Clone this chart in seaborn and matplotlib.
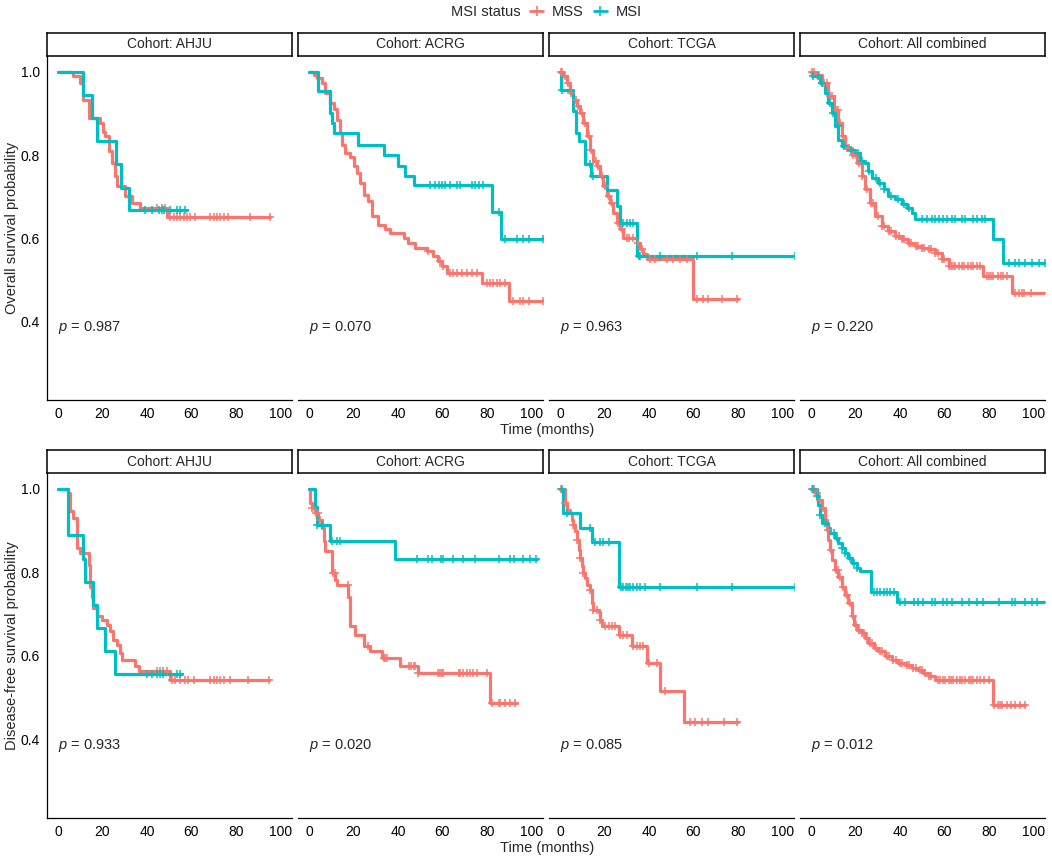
import numpy as np
import matplotlib
matplotlib.use("Agg")
import matplotlib.pyplot as plt
import seaborn as sns
from matplotlib.lines import Line2D

# ---- data (time in months, survival probability) ----
cohorts = ["AHJU", "ACRG", "TCGA", "All combined"]
groups = ["MSS", "MSI"]
os_pvalues = [0.987, 0.070, 0.963, 0.220]
dfs_pvalues = [0.933, 0.020, 0.085, 0.012]
x_ticks = [0, 20, 40, 60, 80, 100]
y_ticks = [0.4, 0.6, 0.8, 1.0]

# Overall survival
os_ahju_mss_t = [0, 6.6, 9.9, 11.4, 13.7, 18.9, 20.0, 21.2, 22.7, 24.2, 25.7, 26.4, 30.2, 33.2, 36.9, 49.0, 95.5]
os_ahju_mss_s = [1.0, 0.989, 0.973, 0.933, 0.889, 0.877, 0.855, 0.845, 0.809, 0.781, 0.750, 0.726, 0.702, 0.686, 0.674, 0.652, 0.652]
os_ahju_mss_c = [44.4, 46.7, 48.2, 50.5, 52, 53.5, 55, 56.5, 58, 59.5, 61.7, 68.5, 70, 71.5, 73, 74.5, 76.7, 86.5, 95.5]
os_ahju_msi_t = [0, 11.4, 15.2, 17.7, 26.0, 28.2, 31.7, 58.0]
os_ahju_msi_s = [1.0, 0.944, 0.889, 0.833, 0.778, 0.722, 0.667, 0.667]
os_ahju_msi_c = [39.2, 42.2, 45.6, 46.7, 47.7, 50.5, 53.5, 55, 57.2]

os_acrg_mss_t = [0, 2.0, 3.5, 5.7, 7.2, 9.5, 11, 12.5, 14, 14.7, 16.2, 18.5, 20, 21.5, 23, 24.5, 26.7, 28.2, 31.2, 34.2,
                 36.5, 42.5, 44.7, 47.7, 53, 56, 58.2, 59.7, 62, 77.8, 89.8, 105.4]
os_acrg_mss_s = [1.0, 0.993, 0.985, 0.973, 0.949, 0.925, 0.91, 0.885, 0.853, 0.825, 0.804, 0.796, 0.773, 0.757, 0.733,
                 0.705, 0.689, 0.653, 0.633, 0.622, 0.614, 0.602, 0.59, 0.578, 0.57, 0.558, 0.546, 0.534, 0.518, 0.494, 0.45, 0.45]
os_acrg_mss_c = [53.5, 59, 60.5, 63.5, 65, 66.5, 68.8, 71, 73.3, 75.5, 80, 81.5, 83, 84.5, 86, 88.3, 92, 95, 96.5, 98.8, 105.4]
os_acrg_msi_t = [0, 4.2, 9.5, 10.2, 11, 22.2, 33.5, 40.2, 43.2, 47.3, 82.3, 86.3, 105.5]
os_acrg_msi_s = [1.0, 0.953, 0.901, 0.877, 0.852, 0.825, 0.799, 0.773, 0.750, 0.727, 0.663, 0.598, 0.598]
os_acrg_msi_c = [54.5, 56.8, 58.3, 59.8, 61.3, 63.5, 66.5, 68, 73.3, 74.8, 76.3, 78.5, 85.3, 88.3, 93.5, 96.5, 98.8, 105.5]

os_tcga_mss_t = [0, 1.5, 3, 4.5, 6, 7.5, 9, 10.5, 12, 13.5, 15, 16.5, 18, 19.5, 21, 22.5, 24, 25.5, 27, 28.5,
                 34.5, 36, 37.5, 39, 60, 80.3]
os_tcga_mss_s = [1.0, 0.989, 0.973, 0.949, 0.933, 0.917, 0.901, 0.877, 0.845, 0.813, 0.785, 0.773, 0.750, 0.726, 0.702,
                 0.686, 0.662, 0.638, 0.622, 0.602, 0.590, 0.574, 0.562, 0.550, 0.455, 0.455]
os_tcga_mss_c = [0.5, 1, 2, 3.5, 5, 7, 8, 10, 11, 13, 14, 16, 17, 19, 20, 22, 23.5, 26, 28, 30, 31, 33, 35, 37,
                 40.5, 42.8, 48, 51, 54, 57, 61.5, 64.5, 66.8, 72.8, 79.6]
os_tcga_msi_t = [0, 0.3, 6, 7, 8.3, 11.3, 14, 21, 25.5, 27, 34.5, 105.9]
os_tcga_msi_s = [1.0, 0.955, 0.905, 0.853, 0.833, 0.778, 0.750, 0.715, 0.678, 0.638, 0.558, 0.558]
os_tcga_msi_c = [0.8, 13.5, 15, 28.5, 30, 31.5, 33, 35.3, 36, 45, 61.6, 77.3, 105.9]

os_all_mss_t = [0, 1.8, 4.8, 7.8, 10.1, 12.3, 13.8, 15.3, 18.3, 20.6, 22.8, 24.3, 26.6, 28.8, 31.8, 34.8, 37.8, 40.8,
                43.8, 46.8, 49.8, 52.8, 55.9, 58.9, 61.9, 77.6, 90.4, 106]
os_all_mss_s = [1.0, 0.993, 0.973, 0.941, 0.909, 0.877, 0.845, 0.817, 0.801, 0.781, 0.750, 0.718, 0.686, 0.654, 0.630,
                0.618, 0.606, 0.598, 0.590, 0.582, 0.578, 0.574, 0.566, 0.550, 0.534, 0.510, 0.470, 0.470]
os_all_mss_c = [0.5, 1.5, 2.5, 3.5, 5, 6, 7, 8.5, 9.5, 11, 12, 13, 14.5, 16, 17, 19, 20, 21.5, 23, 25, 27, 28, 30, 32,
                33, 35, 36, 38, 39.5, 41, 42, 44, 45, 47, 48, 50, 51, 53, 54, 56, 57, 59, 60, 62, 63, 64, 65, 66.5,
                68, 69, 70.5, 72, 73, 74.5, 76, 79, 80, 81, 82, 84, 85.5, 86.5, 88, 92, 93.5, 95, 96, 99, 106]
os_all_msi_t = [0, 0.5, 4.1, 6.3, 7.8, 9.3, 10.8, 12.3, 13.8, 16.8, 19.8, 22.1, 24.3, 25.8, 27.3, 30.3, 32.6, 34.8,
                37.8, 40.8, 43.1, 45.3, 46.8, 82.1, 86.6, 106]
os_all_msi_s = [1.0, 0.989, 0.973, 0.949, 0.925, 0.901, 0.869, 0.837, 0.821, 0.813, 0.805, 0.785, 0.781, 0.761, 0.746,
                0.734, 0.718, 0.702, 0.694, 0.682, 0.674, 0.662, 0.646, 0.598, 0.542, 0.542]
os_all_msi_c = [1, 3, 5, 8.5, 10, 12, 15, 18, 21, 23, 26, 29, 31, 33, 36, 39, 42, 44, 49.8, 52.1, 54.4, 55.9, 57.4,
                59.6, 61.1, 63.4, 64.9, 67.9, 69.4, 73.1, 74.6, 76.9, 78.4, 88.9, 91.9, 93.4, 96.4, 99.4, 102.4, 105.4]

# Disease-free survival
dfs_ahju_mss_t = [0, 4.6, 5.4, 6.9, 8.4, 9.9, 13.7, 14.4, 15.2, 15.9, 17.4, 19.7, 21.9, 23.4, 24.9, 26.4, 27.9, 28.7,
                  34.7, 36.2, 50.5, 94.8]
dfs_ahju_mss_s = [1.0, 0.990, 0.946, 0.930, 0.858, 0.846, 0.818, 0.766, 0.742, 0.715, 0.695, 0.687, 0.675, 0.659, 0.639,
                  0.627, 0.607, 0.591, 0.575, 0.563, 0.543, 0.543]
dfs_ahju_mss_c = [44.4, 45.9, 47.4, 48.9, 51.2, 52.7, 55, 57.2, 58.7, 61, 68.5, 70, 71.5, 73, 74.5, 77.5, 85.7, 94.8]
dfs_ahju_msi_t = [0, 4.65, 11.4, 12.2, 15.9, 17.7, 21.2, 25.7, 55.7]
dfs_ahju_msi_s = [1.0, 0.889, 0.833, 0.778, 0.722, 0.667, 0.611, 0.556, 0.556]
dfs_ahju_msi_c = [39.9, 42.2, 44.7, 45.9, 47, 53.4, 55]

dfs_acrg_mss_t = [0, 0.5, 1.2, 2.7, 4.2, 5.7, 6.5, 7.2, 10.2, 11.7, 12.5, 17.7, 18.5, 20.7, 24.5, 27.5, 32.7, 41, 49.2,
                  81.5, 93.5]
dfs_acrg_mss_s = [1.0, 0.966, 0.954, 0.942, 0.926, 0.906, 0.874, 0.850, 0.798, 0.782, 0.770, 0.742, 0.671, 0.651, 0.623,
                  0.611, 0.595, 0.575, 0.559, 0.487, 0.487]
dfs_acrg_mss_c = [1.5, 3, 4, 5, 10.8, 11.5, 17.5, 26.7, 33.5, 34.2, 35, 45, 45.7, 47, 47.7, 49.2, 58.2, 59, 59.7, 60.5,
                  67.3, 68, 69.5, 71, 72.5, 74, 75.5, 80, 82.3, 85.3, 86, 88.3, 90.5, 92.8]
dfs_acrg_msi_t = [0, 2.7, 3.5, 9.5, 38.7, 102.6]
dfs_acrg_msi_s = [1.0, 0.957, 0.914, 0.874, 0.832, 0.832]
dfs_acrg_msi_c = [3.5, 5.7, 10.2, 12.5, 14, 48.5, 53.7, 55.3, 59.3, 60.2, 65, 69.5, 74.8, 85.3, 90.5, 92.3, 96.5, 99.5, 102.3]

dfs_tcga_mss_t = [0, 2.3, 3, 4.5, 5.3, 6, 6.8, 7.5, 8.3, 9, 9.8, 10.5, 11.3, 12, 13.5, 14.3, 15, 17.3, 18, 18.8,
                  26.3, 32.3, 39, 45, 55.6, 80.3]
dfs_tcga_mss_s = [1.0, 0.966, 0.950, 0.942, 0.926, 0.914, 0.898, 0.878, 0.854, 0.834, 0.814, 0.798, 0.786, 0.770, 0.758,
                  0.727, 0.711, 0.706, 0.687, 0.671, 0.651, 0.623, 0.583, 0.517, 0.441, 0.441]
dfs_tcga_mss_c = [0.3, 2.3, 6, 7.5, 9, 10.5, 13.5, 15, 16.5, 18, 20.3, 21.8, 23.3, 24.8, 27, 28.5, 30, 33, 34.5, 36,
                  37.5, 39.8, 43.5, 47.3, 58.6, 60.8, 63.8, 66.8, 73.6, 79.6]
dfs_tcga_msi_t = [0, 1.5, 9, 14.3, 26.6, 105.9]
dfs_tcga_msi_s = [1.0, 0.942, 0.906, 0.872, 0.766, 0.766]
dfs_tcga_msi_c = [0.75, 3, 13.5, 15.8, 18, 19.5, 21.8, 27.3, 28.5, 29.6, 30.5, 31.5, 33, 34.5, 36, 38.3, 45, 61.5,
                  77.3, 105.9]

dfs_all_mss_t = [0, 1.8, 3.3, 4.8, 6.3, 7.1, 7.8, 8.6, 9.3, 10.8, 12.3, 13.8, 15.3, 16.8, 18.3, 19.1, 20.6, 22.8, 24.3,
                 25.8, 28.1, 30.3, 33.3, 36.3, 39.3, 42.3, 45.3, 48.3, 50.6, 52.9, 55.9, 81.8, 96.4]
dfs_all_mss_s = [1.0, 0.990, 0.974, 0.954, 0.926, 0.902, 0.878, 0.854, 0.830, 0.806, 0.790, 0.766, 0.746, 0.727, 0.695,
                 0.675, 0.663, 0.655, 0.643, 0.631, 0.619, 0.611, 0.599, 0.591, 0.583, 0.579, 0.571, 0.567, 0.559,
                 0.551, 0.543, 0.483, 0.483]
dfs_all_mss_c = [0.5, 1.5, 2.5, 4, 5.5, 7.5, 9, 11, 12, 13, 14.5, 16, 17.5, 19, 20, 21.5, 23, 24, 25, 26.5, 27.5, 29,
                 31, 32, 34, 35, 37, 38, 40, 41, 43, 44, 46, 47, 49, 50, 51.5, 53, 54, 57, 58, 59.5, 60.5, 62, 63, 64,
                 65.5, 67, 68, 69.5, 71, 72, 73, 74.5, 76, 78, 80, 82.5, 84, 85, 86, 88, 90, 92, 94, 96.4]
dfs_all_msi_t = [0, 2.6, 3.3, 4.1, 4.8, 7.8, 8.6, 10.8, 12.3, 13.8, 15.3, 16.8, 18.3, 20.6, 22.1, 27, 38.6, 106]
dfs_all_msi_s = [1.0, 0.982, 0.962, 0.938, 0.918, 0.906, 0.894, 0.882, 0.870, 0.858, 0.846, 0.834, 0.822, 0.810, 0.802,
                 0.752, 0.730, 0.730]
dfs_all_msi_c = [1, 2.6, 4.1, 6.3, 10.1, 11.6, 13.8, 15.3, 17.6, 19.1, 20.6, 28.1, 29.6, 31.1, 32.6, 34.1, 35.6, 37.1,
                 40.1, 42.3, 46.1, 48.3, 50.6, 54.4, 55.9, 59.6, 61.1, 63.4, 67.9, 70.9, 74.6, 77.6, 84.4, 90.4, 91.9,
                 96.4, 99.4, 101.6, 106]

os_curves = [
    [(os_ahju_mss_t, os_ahju_mss_s, os_ahju_mss_c), (os_ahju_msi_t, os_ahju_msi_s, os_ahju_msi_c)],
    [(os_acrg_mss_t, os_acrg_mss_s, os_acrg_mss_c), (os_acrg_msi_t, os_acrg_msi_s, os_acrg_msi_c)],
    [(os_tcga_mss_t, os_tcga_mss_s, os_tcga_mss_c), (os_tcga_msi_t, os_tcga_msi_s, os_tcga_msi_c)],
    [(os_all_mss_t, os_all_mss_s, os_all_mss_c), (os_all_msi_t, os_all_msi_s, os_all_msi_c)],
]
dfs_curves = [
    [(dfs_ahju_mss_t, dfs_ahju_mss_s, dfs_ahju_mss_c), (dfs_ahju_msi_t, dfs_ahju_msi_s, dfs_ahju_msi_c)],
    [(dfs_acrg_mss_t, dfs_acrg_mss_s, dfs_acrg_mss_c), (dfs_acrg_msi_t, dfs_acrg_msi_s, dfs_acrg_msi_c)],
    [(dfs_tcga_mss_t, dfs_tcga_mss_s, dfs_tcga_mss_c), (dfs_tcga_msi_t, dfs_tcga_msi_s, dfs_tcga_msi_c)],
    [(dfs_all_mss_t, dfs_all_mss_s, dfs_all_mss_c), (dfs_all_msi_t, dfs_all_msi_s, dfs_all_msi_c)],
]

colors = {"MSS": "#F8766D", "MSI": "#00BFC4"}

W, H = 1052, 860


def censor_y(t, s, c):
    # survival level at each censoring time (step function lookup)
    idx = np.searchsorted(np.asarray(t), np.asarray(c), side="right") - 1
    return np.asarray(s)[np.clip(idx, 0, len(s) - 1)]


def draw_row(fig, curves, pvalues, top_px, bottom_px, ylabel):
    for i, cohort in enumerate(cohorts):
        left_px = 47 + i * 251
        ax = fig.add_axes([left_px / W, 1 - bottom_px / H, 245 / W, (bottom_px - top_px) / H])
        for g, (t, s, c) in zip(groups, curves[i]):
            sns.lineplot(x=t, y=s, ax=ax, color=colors[g], linewidth=2.3,
                         drawstyle="steps-post", estimator=None, sort=False, legend=False)
            sns.scatterplot(x=c, y=censor_y(t, s, c), ax=ax, color=colors[g], marker="+",
                            s=34, linewidth=1.1, legend=False, zorder=3)
        ax.set_xlim(-5, 105.3)
        ax.set_ylim(0.2125, 1.0375)
        ax.set_xticks(x_ticks)
        ax.set_xticklabels([str(v) for v in x_ticks])
        ax.set_xlabel("")
        ax.set_ylabel("")
        for side in ["top", "right"]:
            ax.spines[side].set_visible(False)
        ax.spines["bottom"].set_color("black")
        ax.spines["bottom"].set_linewidth(0.9)
        if i == 0:
            ax.set_yticks(y_ticks)
            ax.set_yticklabels([f"{v:.1f}" for v in y_ticks])
            ax.spines["left"].set_color("black")
            ax.spines["left"].set_linewidth(0.9)
        else:
            ax.set_yticks([])
            ax.spines["left"].set_visible(False)
        ax.tick_params(axis="both", direction="out", length=3, width=0.8, color="#333333",
                       labelsize=10, labelcolor="black", pad=2)
        ax.text(0, 0.386, rf"$p$ = {pvalues[i]:.3f}", fontsize=10.5, ha="left", va="center")

        # facet strip
        sax = fig.add_axes([left_px / W, 1 - top_px / H, 245 / W, 23 / H])
        sax.set_xticks([])
        sax.set_yticks([])
        for sp in sax.spines.values():
            sp.set_color("black")
            sp.set_linewidth(1.1)
        sax.set_facecolor("white")
        sax.text(0.5, 0.5, f"Cohort: {cohort}", ha="center", va="center", fontsize=10,
                 transform=sax.transAxes)

    fig.text(12 / W, 1 - (top_px + bottom_px) / 2 / H, ylabel, rotation=90,
             ha="center", va="center", fontsize=10.5)
    fig.text(547 / W, 1 - (bottom_px + 30) / H, "Time (months)", ha="center", va="center", fontsize=10.5)


def main():
    sns.set_style("white")
    plt.rcParams["font.family"] = ["Liberation Sans", "DejaVu Sans"]
    plt.rcParams["mathtext.fontset"] = "custom"
    plt.rcParams["mathtext.it"] = "Liberation Sans:italic"
    plt.rcParams["mathtext.rm"] = "Liberation Sans"

    fig = plt.figure(figsize=(W / 100, H / 100), dpi=100)
    fig.patch.set_facecolor("white")

    draw_row(fig, os_curves, os_pvalues, 56, 400, "Overall survival probability")
    draw_row(fig, dfs_curves, dfs_pvalues, 473, 818, "Disease-free survival probability")

    # legend on top
    fig.text(521 / W, 1 - 12 / H, "MSI status", ha="right", va="center", fontsize=10.5)
    handles = [Line2D([], [], color=colors[g], linewidth=2, marker="+", markersize=7, markeredgewidth=1.2)
               for g in groups]
    fig.legend(handles, groups, loc="center left", bbox_to_anchor=(530 / W, 1 - 12 / H), ncol=2,
               frameon=False, fontsize=10.5, handlelength=0.9, handletextpad=0.6, columnspacing=0.7,
               borderpad=0, borderaxespad=0)

    fig.savefig("out.png", dpi=100, facecolor="white")
    plt.close(fig)


if __name__ == "__main__":
    main()
